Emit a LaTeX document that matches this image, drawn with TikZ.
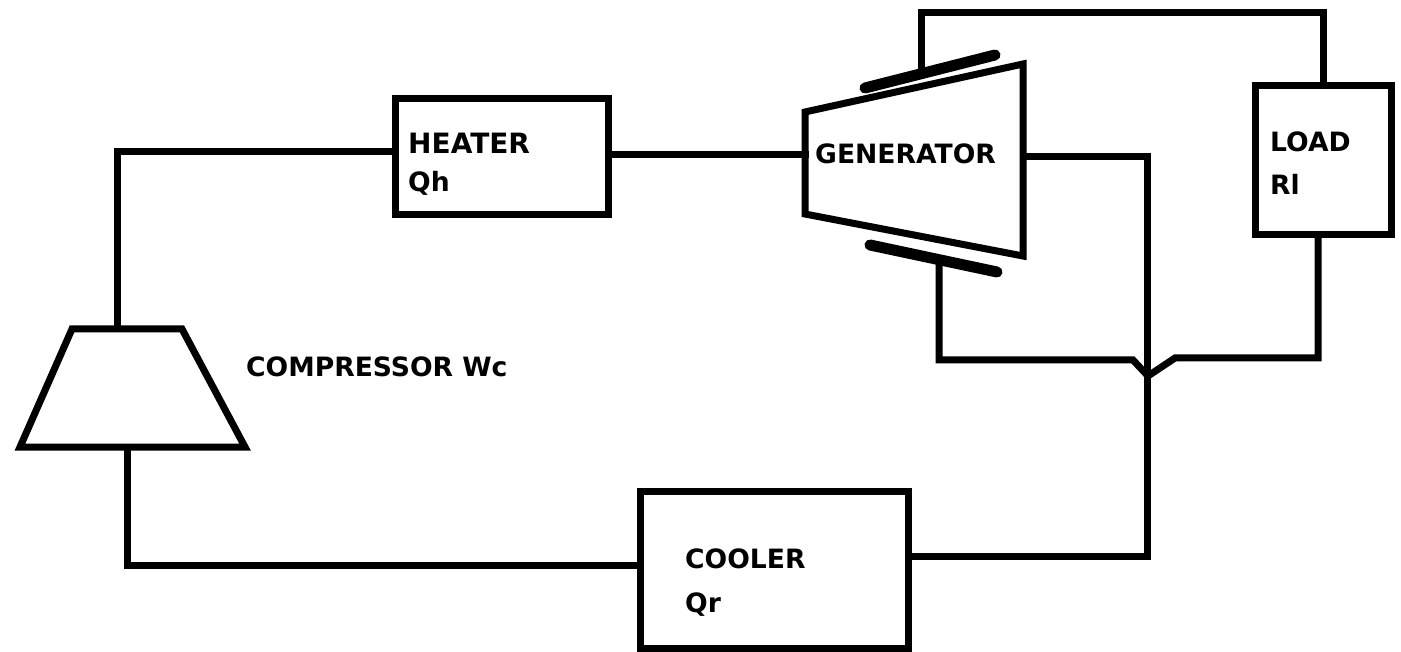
\documentclass[tikz,border=0pt]{standalone}
\usepackage{fontspec}
\setmainfont{DejaVu Sans}
\begin{document}
\begin{tikzpicture}[x=1pt,y=-1pt,
  wire/.style={line width=7pt,line cap=rect,line join=miter},
  plate/.style={line width=11pt,line cap=round},
  blockbox/.style={draw,line width=7pt,minimum width=0pt,inner sep=0pt,outer sep=0pt},
  lab/.style={anchor=base west,inner sep=0pt,font=\fontsize{26.6}{30}\selectfont\bfseries},
  labwide/.style={lab,font=\fontsize{28}{30}\selectfont\bfseries}]
\useasboundingbox (0,0) rectangle (1401,652);
% boxes
\node[blockbox,minimum width=213pt,minimum height=116pt] (heater) at (501.5,157) {};
\node[blockbox,minimum width=136pt,minimum height=149pt] (load) at (1323,160.5) {};
\node[blockbox,minimum width=268pt,minimum height=157pt] (cooler) at (774,569.5) {};
% generator
\coordinate (g1) at (805,112); \coordinate (g2) at (1023,64);
\coordinate (g3) at (1023,256); \coordinate (g4) at (805,214);
\draw[wire] (g1) -- (g2) -- (g3) -- (g4) -- cycle;
% compressor
\coordinate (c1) at (72,329); \coordinate (c2) at (182,329);
\coordinate (c3) at (245,447); \coordinate (c4) at (20,447);
\draw[wire] (c1) -- (c2) -- (c3) -- (c4) -- cycle;
% plates
\coordinate (p1) at (865,88); \coordinate (p2) at (995,55);
\coordinate (p3) at (870,245); \coordinate (p4) at (997,272);
\draw[plate] (p1) -- (p2);
\draw[plate] (p3) -- (p4);
% junction points
\coordinate (cTop) at (117,329);
\coordinate (cBot) at (127,447);
\coordinate (hIn) at (395,152);
\coordinate (hOut) at (608,155);
\coordinate (gIn) at (805,155);
\coordinate (gOut) at (1023,157);
\coordinate (upTap) at (921,75);
\coordinate (loadTop) at (1323,86);
\coordinate (loadBot) at (1318,235);
\coordinate (lowTap) at (939,262);
\coordinate (jn) at (1148,376);
\coordinate (jnL) at (1133,360);
\coordinate (jnR) at (1175,358);
\coordinate (busTop) at (1147,157);
\coordinate (coolR) at (908,556);
\coordinate (coolL) at (640,565);
% connectors
\draw[wire] (cTop) |- (hIn);
\draw[wire] (hOut) -- (gIn);
\draw[wire] (gOut) -| (busTop) -- (busTop |- coolR) -- (coolR);
\draw[wire] (upTap) |- (921,13) -| (loadTop);
\draw[wire] (lowTap) |- (jnL) -- (jn) -- (jnR) -| (loadBot);
\draw[wire] (cBot) |- (coolL);
% labels
\node[labwide] (tHeater) at (408,154) {HEATER};
\node[lab] (tQh) at (408,192) {Qh};
\node[lab] (tGen) at (815,164) {GENERATOR};
\node[lab] (tLoad) at (1270,152) {LOAD};
\node[lab] (tRl) at (1270,195) {Rl};
\node[lab] (tComp) at (246,377) {COMPRESSOR Wc};
\node[lab] (tCool) at (685,568) {COOLER};
\node[lab] (tQr) at (685,612) {Qr};
\end{tikzpicture}
\end{document}
